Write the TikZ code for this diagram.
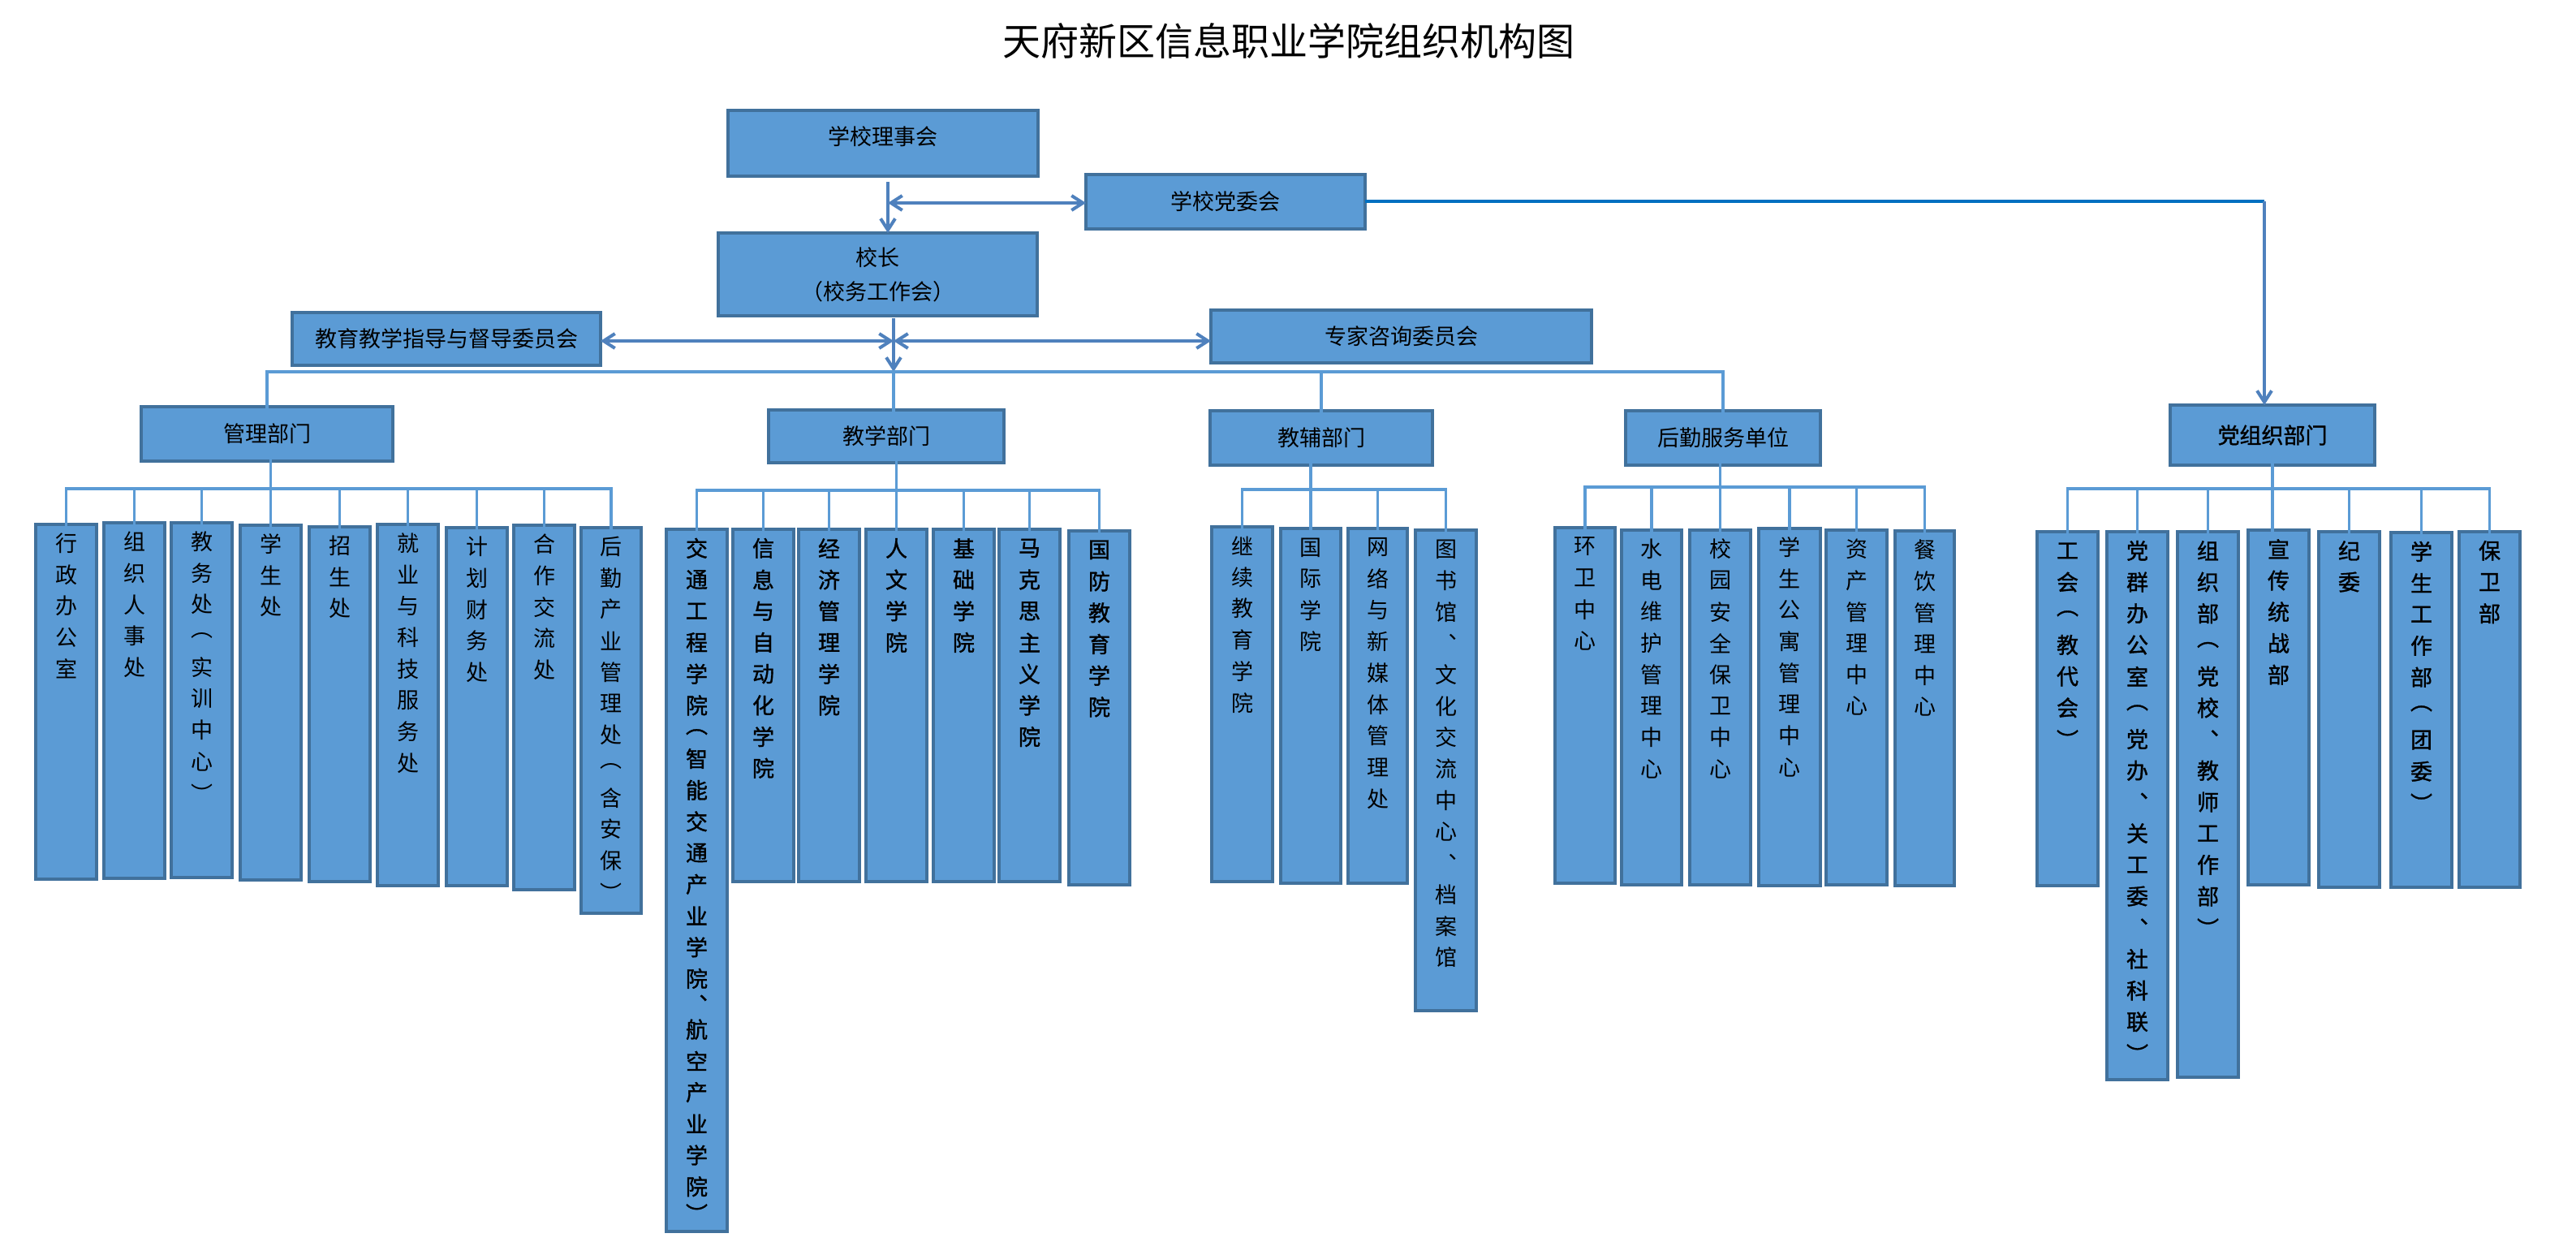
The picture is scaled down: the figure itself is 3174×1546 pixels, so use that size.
\documentclass[tikz,border=0pt]{standalone}
\usepackage{fontspec}
\newfontfamily\cjk{Noto Sans CJK SC}
\newfontfamily\cjkh{Noto Sans CJK SC}[FakeBold=1.3]
\usetikzlibrary{arrows.meta,calc}
\definecolor{boxfill}{HTML}{5B9BD5}
\definecolor{boxline}{HTML}{41719C}
\definecolor{treeline}{HTML}{5B9BD5}
\definecolor{arrline}{HTML}{4F81BD}
\definecolor{dline}{HTML}{0070C0}
\makeatletter
\def\vlp{︵}\def\vrp{︶}\def\vcm{︑}
\newdimen\vcell \vcell=38.7pt
\newdimen\vpcell \vpcell=38.7pt
\newdimen\vccell \vccell=38.7pt
\def\vtput#1{\hbox to\hsize{\hss\vbox to #1{\vss\hbox{\vtc}\vss}\hss}}
\def\vtone{\ifx\vtc\vlp\vtput\vpcell\else\ifx\vtc\vrp\vtput\vpcell\else\ifx\vtc\vcm\vtput\vccell\else\vtput\vcell\fi\fi\fi}
\newcommand\vtstack[3]{\vbox to #2{\hsize=#1\relax\offinterlineskip\vskip4pt\@tfor\vtc:=#3\do{\vtone}\vss}}
\makeatother
\newcommand\hb[7]{\node[hcol,#1,minimum width={#5-#3},minimum height={#6-#4}] (#2) at ({(#3+#5)/2},{(#4+#6)/2}) {#7};}
\newcommand\vb[7]{\node[vcol,#1,anchor=north west] (#2) at (#3,#4) {\vtstack{\dimexpr#5pt-#3pt\relax}{\dimexpr#6pt-#4pt\relax}{#7}};}
\begin{document}
\begin{tikzpicture}[x=1pt,y=-1pt,
  hcol/.style={draw=boxline,fill=boxfill,line width=3.5pt,inner sep=0pt,outer sep=0pt,font=\cjk\fontsize{27}{42}\selectfont,align=center},
  vcol/.style={draw=boxline,fill=boxfill,line width=3.5pt,inner sep=0pt,outer sep=0pt,font=\cjk\fontsize{27}{30}\selectfont},
  heavy/.style={font=\cjkh\fontsize{27}{30}\selectfont},
  tree/.style={draw=treeline,line width=3.5pt,line cap=rect},
  arr/.style={draw=arrline,line width=4pt},
  >={Straight Barb[length=14pt,width=18pt]}]
\fill[white] (0,0) rectangle (3174,1546);
\node[font=\cjk\fontsize{47}{50}\selectfont,inner sep=0pt] (title) at (1588,51) {天府新区信息职业学院组织机构图};
% top level boxes
\hb{text height=22pt,text depth=18pt}{lsh}{897}{136}{1279}{217}{学校理事会}
\hb{}{dwh}{1338}{215}{1682}{282}{学校党委会}
\hb{}{xz}{885}{287}{1278}{389}{校长\\（校务工作会）}
\hb{}{jy}{360}{385}{740}{450}{教育教学指导与督导委员会}
\hb{}{zj}{1492}{382}{1961}{447}{专家咨询委员会}
\hb{}{gl}{174}{501}{484}{568}{管理部门}
\hb{}{jx}{947}{505}{1237}{570}{教学部门}
\hb{}{jf}{1491}{506}{1765}{573}{教辅部门}
\hb{}{hq}{2003}{506}{2243}{573}{后勤服务单位}
\hb{heavy}{dz}{2674}{499}{2926}{573}{党组织部门}
% management
\vb{}{m1}{44}{646}{119}{1083}{行政办公室}
\vb{}{m2}{128}{644}{203}{1082}{组织人事处}
\vb{}{m3}{211}{644}{286}{1081}{教务处︵实训中心︶}
\vb{}{m4}{296}{647}{371}{1084}{学生处}
\vb{}{m5}{381}{649}{456}{1086}{招生处}
\vb{}{m6}{465}{646}{540}{1091}{就业与科技服务处}
\vb{}{m7}{550}{650}{625}{1091}{计划财务处}
\vb{}{m8}{633}{647}{708}{1096}{合作交流处}
\vb{}{m9}{716}{650}{790}{1125}{后勤产业管理处︵含安保︶}
% teaching
\vpcell=27pt\relax\vccell=24pt\relax
\vb{heavy}{t1}{821}{652}{896}{1517}{交通工程学院︵智能交通产业学院︑航空产业学院︶}
\vpcell=38.7pt\relax\vccell=38.7pt\relax
\vb{heavy}{t2}{903}{652}{978}{1086}{信息与自动化学院}
\vb{heavy}{t3}{984}{652}{1059}{1086}{经济管理学院}
\vb{heavy}{t4}{1067}{652}{1142}{1086}{人文学院}
\vb{heavy}{t5}{1150}{652}{1225}{1086}{基础学院}
\vb{heavy}{t6}{1231}{652}{1306}{1086}{马克思主义学院}
\vb{heavy}{t7}{1317}{654}{1392}{1090}{国防教育学院}
% teaching support
\vb{}{f1}{1493}{649}{1568}{1086}{继续教育学院}
\vb{}{f2}{1578}{651}{1652}{1088}{国际学院}
\vb{}{f3}{1661}{651}{1734}{1088}{网络与新媒体管理处}
\vb{}{f4}{1744}{653}{1819}{1245}{图书馆︑文化交流中心︑档案馆}
% logistics
\vb{}{h1}{1916}{650}{1990}{1088}{环卫中心}
\vb{}{h2}{1998}{653}{2072}{1090}{水电维护管理中心}
\vb{}{h3}{2082}{653}{2157}{1090}{校园安全保卫中心}
\vb{}{h4}{2167}{651}{2243}{1091}{学生公寓管理中心}
\vb{}{h5}{2250}{653}{2325}{1090}{资产管理中心}
\vb{}{h6}{2335}{654}{2408}{1091}{餐饮管理中心}
% party
\vb{heavy}{p1}{2510}{655}{2585}{1091}{工会︵教代会︶}
\vb{heavy}{p2}{2596}{655}{2671}{1330}{党群办公室︵党办︑关工委︑社科联︶}
\vb{heavy}{p3}{2683}{655}{2758}{1327}{组织部︵党校︑教师工作部︶}
\vb{heavy}{p4}{2770}{653}{2845}{1090}{宣传统战部}
\vb{heavy}{p5}{2857}{655}{2932}{1093}{纪委}
\vb{heavy}{p6}{2946}{656}{3021}{1093}{学生工作部︵团委︶}
\vb{heavy}{p7}{3030}{655}{3105}{1093}{保卫部}
% trunk and arrows
\coordinate (tk1) at (1094,0);
\coordinate (tk) at (1101,0);
\coordinate (ya) at (0,250);
\coordinate (yb) at (0,420);
\coordinate (bt) at (0,458);
\coordinate (pc) at (2790,248);
\draw[arr,->,shorten <=7pt] (lsh.south -| tk1) -- (xz.north -| tk1);
\draw[arr,<->] (tk1 |- ya) -- (dwh.west |- ya);
\draw[arr,->,shorten <=3pt] (xz.south -| tk) -- (tk |- bt);
\draw[arr,<->] (jy.east |- yb) -- (tk |- yb);
\draw[arr,<->] (tk |- yb) -- (zj.west |- yb);
\draw[draw=dline,line width=4pt] (dwh.east |- pc) -- (pc);
\draw[arr,->] (pc) -- (dz.north -| pc);
% main bus
\draw[tree] (gl.north |- bt) -- (hq.north |- bt);
\draw[tree] (gl.north |- bt) -- (gl.north);
\draw[tree] (tk |- bt) -- (jx.north -| tk);
\draw[tree] (jf.north |- bt) -- (jf.north);
\draw[tree] (hq.north |- bt) -- (hq.north);
% management bus
\coordinate (bm) at (0,602);
\draw[tree] (m1.north |- bm) -- (m9.north |- bm);
\draw[tree] (gl.south -| m4.north) -- (m4.north |- bm);
\foreach \c in {m1,m2,m3,m4,m5,m6,m7,m8,m9} \draw[tree] (\c.north |- bm) -- (\c.north);
% teaching bus
\coordinate (bj) at (0,604);
\draw[tree] (t1.north |- bj) -- (t7.north |- bj);
\draw[tree] (jx.south -| t4.north) -- (t4.north |- bj);
\foreach \c in {t1,t2,t3,t4,t5,t6,t7} \draw[tree] (\c.north |- bj) -- (\c.north);
% support bus
\coordinate (bf) at (0,603);
\draw[tree] (f1.north |- bf) -- (f4.north |- bf);
\draw[tree] (jf.south -| f2.north) -- (f2.north |- bf);
\foreach \c in {f1,f2,f3,f4} \draw[tree] (\c.north |- bf) -- (\c.north);
% logistics bus
\coordinate (bh) at (0,600);
\draw[tree] (h1.north |- bh) -- (h6.north |- bh);
\draw[tree] (hq.south -| h3.north) -- (h3.north |- bh);
\foreach \c in {h1,h2,h3,h4,h5,h6} \draw[tree] (\c.north |- bh) -- (\c.north);
% party bus
\coordinate (bp) at (0,602);
\draw[tree] (p1.north |- bp) -- (p7.north |- bp);
\draw[tree] (dz.south) -- (dz.south |- bp);
\draw[tree] (dz.south |- bp) -- (p4.north -| dz.south);
\foreach \c in {p1,p2,p3,p5,p6,p7} \draw[tree] (\c.north |- bp) -- (\c.north);
\end{tikzpicture}
\end{document}
